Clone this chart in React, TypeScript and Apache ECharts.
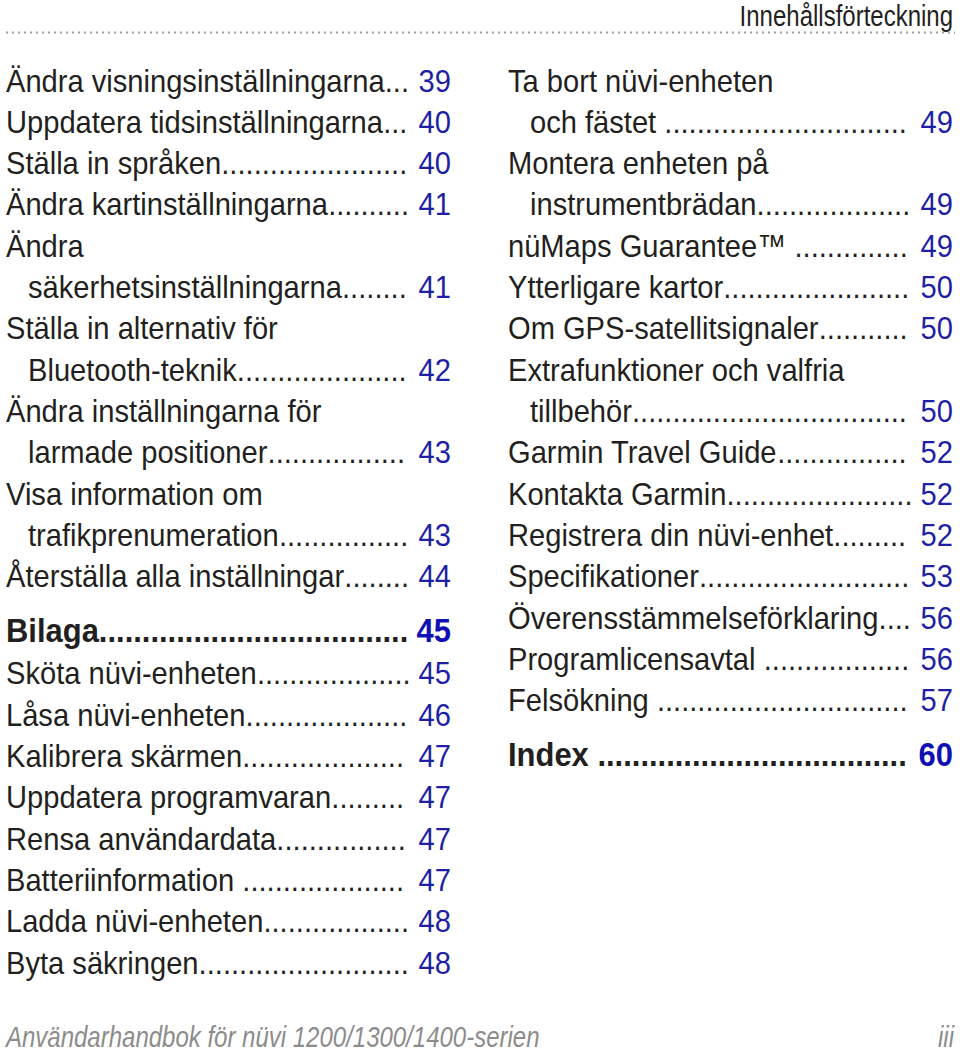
import React, { useEffect, useRef } from "react";
import * as echarts from "echarts";

const headerTitle = "Innehållsförteckning";
const footerTitle = "Användarhandbok för nüvi 1200/1300/1400-serien";
const footerPage = "iii";

// kinds: n = normal entry, w = first line of wrapped entry (no page), c = continuation line, h = section heading
const leftTexts = [
  "Ändra visningsinställningarna",
  "Uppdatera tidsinställningarna",
  "Ställa in språken",
  "Ändra kartinställningarna",
  "Ändra",
  "säkerhetsinställningarna",
  "Ställa in alternativ för",
  "Bluetooth-teknik",
  "Ändra inställningarna för",
  "larmade positioner",
  "Visa information om",
  "trafikprenumeration",
  "Återställa alla inställningar",
  "Bilaga",
  "Sköta nüvi-enheten",
  "Låsa nüvi-enheten",
  "Kalibrera skärmen",
  "Uppdatera programvaran",
  "Rensa användardata",
  "Batteriinformation ",
  "Ladda nüvi-enheten",
  "Byta säkringen",
];
const leftPages = ["39", "40", "40", "41", "", "41", "", "42", "", "43", "", "43", "44", "45", "45", "46", "47", "47", "47", "47", "48", "48"];
const leftKinds = ["n", "n", "n", "n", "w", "c", "w", "c", "w", "c", "w", "c", "n", "h", "n", "n", "n", "n", "n", "n", "n", "n"];

const rightTexts = [
  "Ta bort nüvi-enheten",
  "och fästet ",
  "Montera enheten på",
  "instrumentbrädan",
  "nüMaps Guarantee™ ",
  "Ytterligare kartor",
  "Om GPS-satellitsignaler",
  "Extrafunktioner och valfria",
  "tillbehör",
  "Garmin Travel Guide",
  "Kontakta Garmin",
  "Registrera din nüvi-enhet",
  "Specifikationer",
  "Överensstämmelseförklaring",
  "Programlicensavtal ",
  "Felsökning ",
  "Index ",
];
const rightPages = ["", "49", "", "49", "49", "50", "50", "", "50", "52", "52", "52", "53", "56", "56", "57", "60"];
const rightKinds = ["w", "c", "w", "c", "n", "n", "n", "w", "c", "n", "n", "n", "n", "n", "n", "n", "h"];

const FONT = '"Liberation Sans", Arial, sans-serif';
const SX = 0.91;
const TEXT_COLOR = "#231f20";
const BLUE = "#1f1fa6";
const BLUE_BOLD = "#1010b4";

export default function App() {
  const ref = useRef<HTMLDivElement>(null);
  useEffect(() => {
    if (!ref.current) return;
    const chart = echarts.init(ref.current, null, { renderer: "svg" });
    const ctx = document.createElement("canvas").getContext("2d")!;
    const measure = (t: string, size: number, weight: string) => {
      ctx.font = `${weight} ${size}px "Liberation Sans"`;
      return ctx.measureText(t).width * SX;
    };

    const elements: any[] = [];
    const txt = (text: string, x: number, y: number, size: number, weight: string, fill: string, align: string, sx: number, family = FONT, style = "normal") => {
      elements.push({
        type: "text",
        x,
        y,
        scaleX: sx,
        style: { text, fontSize: size, fontFamily: family, fontWeight: weight, fontStyle: style, fill, align, verticalAlign: "middle" },
      });
    };

    const buildColumn = (texts: string[], pages: string[], kinds: string[], left: number, right: number) => {
      let y = 80;
      texts.forEach((t, i) => {
        const k = kinds[i];
        if (i > 0) {
          if (k === "h") y += 54;
          else if (kinds[i - 1] === "h") y += 43;
          else y += 41.33;
        }
        const heading = k === "h";
        const size = heading ? 34 : 32;
        const weight = heading ? "bold" : "normal";
        const x = k === "c" ? left + 22 : left;
        const cy = heading ? y + 1 : y;
        txt(t, x, cy, size, weight, TEXT_COLOR, "left", SX);
        const p = pages[i];
        if (p) {
          txt(p, right, cy, size, weight, heading ? BLUE_BOLD : BLUE, "right", SX);
          const tw = measure(t, size, weight);
          const pw = measure(p, size, weight);
          const sw = measure(" ", size, weight);
          const dw = measure(".", size, weight);
          const avail = right - pw - sw * 0.85 - (x + tw);
          const n = Math.max(0, Math.floor(avail / dw));
          txt(".".repeat(n), x + tw, cy, size, weight, TEXT_COLOR, "left", SX);
        }
      });
    };

    buildColumn(leftTexts, leftPages, leftKinds, 6, 451);
    buildColumn(rightTexts, rightPages, rightKinds, 508, 953);

    // header
    txt(headerTitle, 953, 16, 30, "normal", TEXT_COLOR, "right", 0.8);
    elements.push({
      type: "line",
      shape: { x1: 6, y1: 32.5, x2: 955, y2: 32.5 },
      style: { stroke: "#a0a0a0", lineWidth: 2, lineDash: [2, 4] },
    });
    // footer
    txt(footerTitle, 6, 1037, 30, "normal", "#8c8c8c", "left", 0.8, FONT, "italic");
    txt(footerPage, 954, 1037, 30, "normal", "#8c8c8c", "right", 0.8, FONT, "italic");

    chart.setOption({
      animation: false,
      backgroundColor: "#ffffff",
      graphic: { elements },
    });
    return () => chart.dispose();
  }, []);
  return <div ref={ref} style={{ width: 960, height: 1060, position: "absolute", left: 0, top: 0 }} />;
}
